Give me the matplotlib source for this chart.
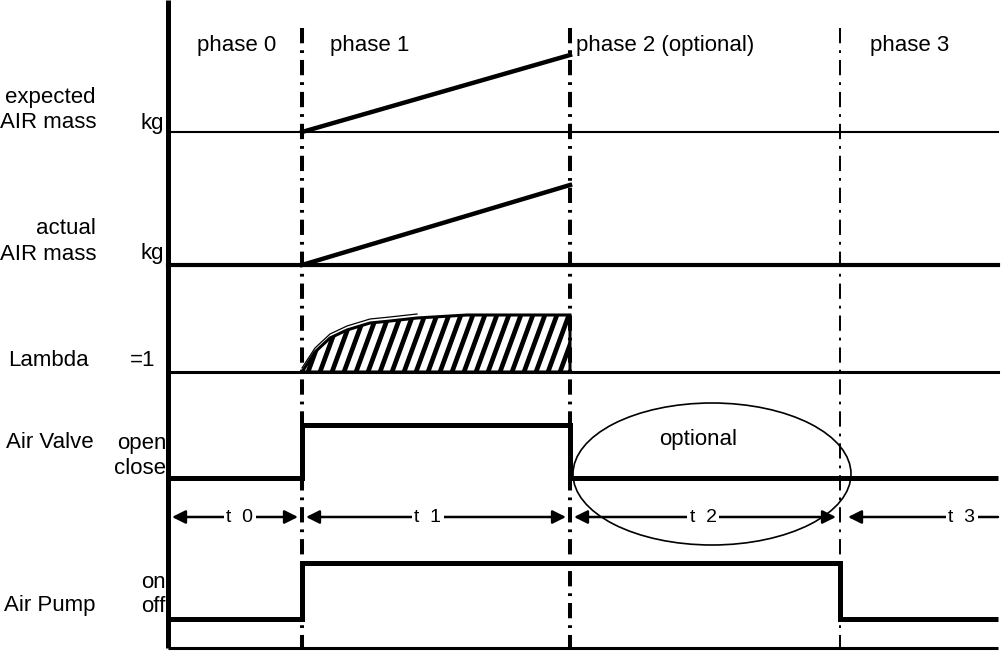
import numpy as np
import matplotlib.pyplot as plt
from matplotlib.patches import Ellipse, Polygon

plt.rcParams["font.family"] = ["Liberation Sans", "DejaVu Sans"]
plt.rcParams["lines.scale_dashes"] = False

# time axis (diagram units, left edge of signals and right end)
t_start = 168
t_end = 998
phase_edges = [302, 570, 840]
phase_names = ["phase 0", "phase 1", "phase 2 (optional)", "phase 3"]
phase_label_x = [237, 370, 576, 910]

# signal rows: baseline position of each trace
row_names = ["expected", "actual", "lambda", "valve", "pump"]
row_base = [132, 265, 372, 478, 619]

# ramps during phase 1
expected_rise = 77
actual_rise = 80

# lambda deviation (hatched area) during phase 1
lambda_t = [302, 315, 330, 347, 370, 390, 417, 467, 570]
lambda_dev = [0, 20, 34, 42, 49, 51, 54, 57, 57]

# on/off signals
valve_edges = [168, 302, 570, 998]
valve_state = [0, 1, 0]
valve_high = 53
pump_edges = [168, 302, 840, 998]
pump_state = [0, 1, 0]
pump_high = 56

# durations
dur_names = ["0", "1", "2", "3"]
dur_from = [172, 306, 574, 848]
dur_to = [298, 566, 836, 998]
dur_label_x = [240, 428, 703, 962]
dur_y = 517

fig = plt.figure(figsize=(10.08, 6.72), dpi=100)
ax = fig.add_axes([0, 0, 1, 1])
ax.set_xlim(0, 1008)
ax.set_ylim(672, 0)
ax.axis("off")

base = dict(zip(row_names, row_base))

# frame: left axis and bottom line
ax.plot([t_start, t_start], [0, 648], color="k", lw=3.6, solid_capstyle="butt")
ax.plot([t_start, t_end], [648, 648], color="k", lw=2.2, solid_capstyle="butt")

# phase boundaries
for i, x in enumerate(phase_edges):
    lw = 2.9 if i < 2 else 1.4
    ax.plot([x, x], [28, 648], color="k", lw=lw,
            linestyle=(0, (11, 5, 2, 5)), dash_capstyle="butt")

for name, x in zip(phase_names, phase_label_x):
    ha = "left" if "optional" in name else "center"
    ax.text(x, 45, name, fontsize=16, ha=ha, va="center")

# expected AIR mass
y0 = base["expected"]
ax.plot([t_start, t_end], [y0, y0], color="k", lw=1.5)
ax.plot([phase_edges[0], phase_edges[1]], [y0, y0 - expected_rise], color="k", lw=3.2)

# actual AIR mass
y0 = base["actual"]
ax.plot([t_start, t_end], [y0, y0], color="k", lw=3.0)
ax.plot([phase_edges[0], phase_edges[1]], [y0, y0 - actual_rise], color="k", lw=3.2)

# lambda
y0 = base["lambda"]
ax.plot([t_start, t_end], [y0, y0], color="k", lw=2.2)
top = [y0 - d for d in lambda_dev]
verts = list(zip(lambda_t, top)) + [(lambda_t[-1], y0), (lambda_t[0], y0)]
poly = Polygon(verts, closed=True, facecolor="none", edgecolor="k", lw=2.2)
ax.add_patch(poly)
for xs in np.arange(lambda_t[0] - 30, lambda_t[-1] + 10, 12):
    ln, = ax.plot([xs, xs + 22], [y0, y0 - 60], color="k", lw=3.4)
    ln.set_clip_path(poly)
ax.plot(lambda_t[:-2], [t - 4 for t in top[:-2]], color="k", lw=0.9)

# air valve
y0 = base["valve"]
ax.stairs([y0 - s * valve_high for s in valve_state], valve_edges,
          baseline=None, color="k", lw=3.6)
ax.add_patch(Ellipse((712, 474), 278, 142, fill=False, edgecolor="k", lw=1.2))
ax.text(698, 440, "optional", fontsize=16, ha="center", va="center")

# air pump
y0 = base["pump"]
ax.stairs([y0 - s * pump_high for s in pump_state], pump_edges,
          baseline=None, color="k", lw=3.6)

# duration arrows
for name, a, b, lx in zip(dur_names, dur_from, dur_to, dur_label_x):
    style = "-|>" if name == "3" else "<|-|>"
    ax.annotate("", xy=(a, dur_y), xytext=(b, dur_y),
                arrowprops=dict(arrowstyle=style, color="k", lw=1.8,
                                shrinkA=0, shrinkB=0, mutation_scale=20))
    ax.text(lx, dur_y, "t  " + name, fontsize=14, ha="center", va="center",
            bbox=dict(facecolor="white", edgecolor="none", pad=2))

# row labels
fs = 16
ax.text(96, 97, "expected", fontsize=fs, ha="right", va="center")
ax.text(96, 122, "AIR mass", fontsize=fs, ha="right", va="center")
ax.text(164, 124, "kg", fontsize=fs, ha="right", va="center")
ax.text(96, 228, "actual", fontsize=fs, ha="right", va="center")
ax.text(96, 254, "AIR mass", fontsize=fs, ha="right", va="center")
ax.text(164, 254, "kg", fontsize=fs, ha="right", va="center")
ax.text(8, 360, "Lambda", fontsize=fs, ha="left", va="center")
ax.text(130, 360, "=1", fontsize=fs, ha="left", va="center")
ax.text(6, 443, "Air Valve", fontsize=fs, ha="left", va="center")
ax.text(166, 443, "open", fontsize=fs, ha="right", va="center")
ax.text(166, 469, "close", fontsize=fs, ha="right", va="center")
ax.text(166, 582, "on", fontsize=fs, ha="right", va="center")
ax.text(166, 606, "off", fontsize=fs, ha="right", va="center")
ax.text(4, 606, "Air Pump", fontsize=fs, ha="left", va="center")

fig.savefig("out.png", dpi=100)
